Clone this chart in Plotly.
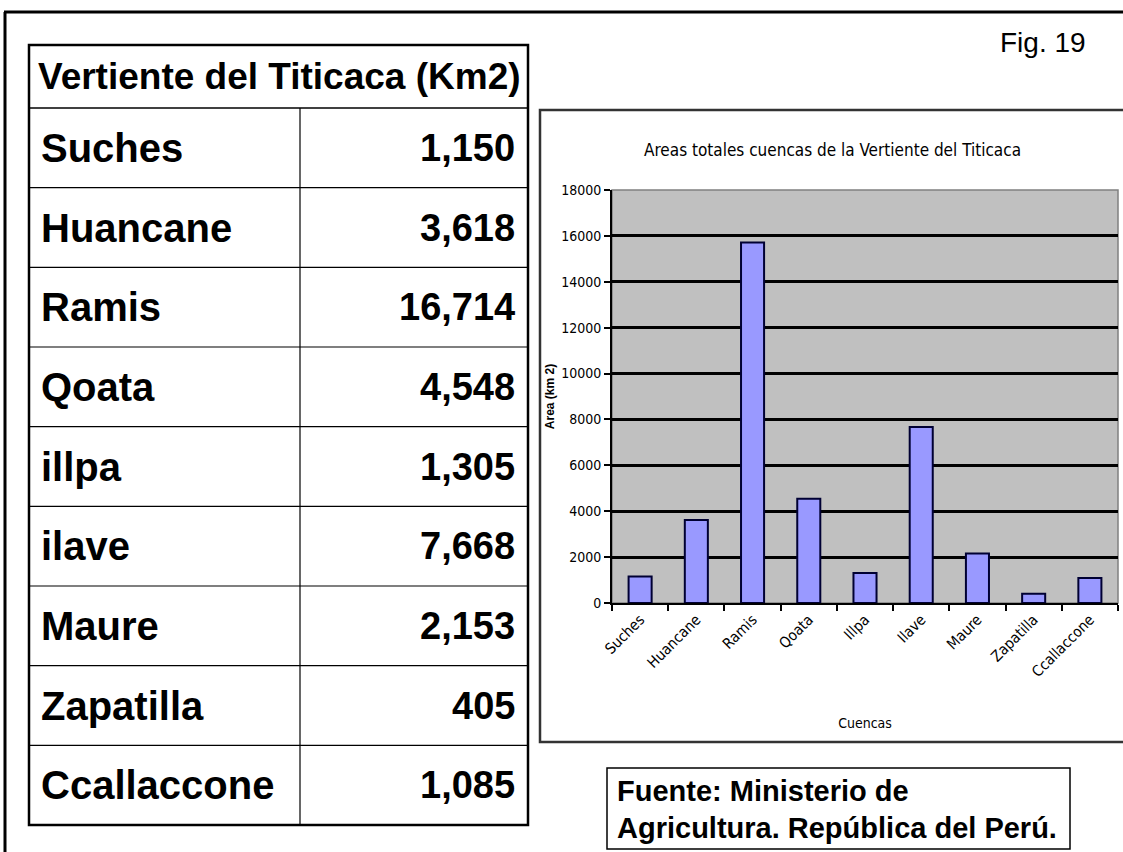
import plotly.graph_objects as go

# ---- data ----
table_title = "Vertiente del Titicaca (Km2)"
basins = ["Suches", "Huancane", "Ramis", "Qoata", "illpa", "ilave", "Maure", "Zapatilla", "Ccallaccone"]
areas_table = [1150, 3618, 16714, 4548, 1305, 7668, 2153, 405, 1085]
chart_categories = ["Suches", "Huancane", "Ramis", "Qoata", "Illpa", "Ilave", "Maure", "Zapatilla", "Ccallaccone"]
chart_values = [1150, 3618, 15714, 4548, 1305, 7668, 2153, 405, 1085]
y_ticks = [0, 2000, 4000, 6000, 8000, 10000, 12000, 14000, 16000, 18000]
chart_title = "Areas totales cuencas de la Vertiente del Titicaca"
x_title = "Cuencas"
y_title = "Area (km 2)"
fig_label = "Fig. 19"
source_lines = ["Fuente: Ministerio de", "Agricultura. República del Perú."]

W, H = 1123, 852
def px(x): return x / W
def py(y): return 1 - y / H

NARROW = "Liberation Sans Narrow, Arial Narrow, DejaVu Sans Condensed, Liberation Sans, Arial, sans-serif"
SANS = "Liberation Sans, Arial, sans-serif"

fig = go.Figure()
fig.add_trace(go.Bar(
    x=chart_categories, y=chart_values,
    marker=dict(color="#9999FF", line=dict(color="#000033", width=2)),
    showlegend=False, hoverinfo="x+y",
))

# plot area geometry (pixels)
PL, PR, PT, PB = 612, 1118, 190, 603

shapes = []
annotations = []

# outer frame
shapes.append(dict(type="line", xref="paper", yref="paper", x0=px(4), x1=px(1123), y0=py(12), y1=py(12),
                   line=dict(color="black", width=3)))
shapes.append(dict(type="line", xref="paper", yref="paper", x0=px(5), x1=px(5), y0=py(12), y1=py(852),
                   line=dict(color="black", width=3)))

# table
TL, TR, TDIV = 29, 528, 300
T_TOP, T_HEAD, T_BOT = 45, 108, 825
n = len(basins)
row_h = (T_BOT - T_HEAD) / n
shapes.append(dict(type="rect", xref="paper", yref="paper", x0=px(TL), x1=px(TR), y0=py(T_TOP), y1=py(T_BOT),
                   line=dict(color="black", width=2.5)))
shapes.append(dict(type="line", xref="paper", yref="paper", x0=px(TL), x1=px(TR), y0=py(T_HEAD), y1=py(T_HEAD),
                   line=dict(color="black", width=1.5)))
shapes.append(dict(type="line", xref="paper", yref="paper", x0=px(TDIV), x1=px(TDIV), y0=py(T_HEAD), y1=py(T_BOT),
                   line=dict(color="black", width=1.2)))
for i in range(1, n):
    yy = T_HEAD + i * row_h
    shapes.append(dict(type="line", xref="paper", yref="paper", x0=px(TL), x1=px(TR), y0=py(yy), y1=py(yy),
                       line=dict(color="black", width=1.2)))
annotations.append(dict(text="<b>" + table_title + "</b>", xref="paper", yref="paper", x=px(36), y=py((T_TOP + T_HEAD) / 2),
                        xanchor="left", yanchor="middle", showarrow=False,
                        font=dict(family=SANS, size=37, color="black")))
for i, (name, val) in enumerate(zip(basins, areas_table)):
    yc = T_HEAD + (i + 0.5) * row_h
    annotations.append(dict(text="<b>" + name + "</b>", xref="paper", yref="paper", x=px(39), y=py(yc),
                            xanchor="left", yanchor="middle", showarrow=False,
                            font=dict(family=SANS, size=40, color="black")))
    annotations.append(dict(text="<b>" + f"{val:,}" + "</b>", xref="paper", yref="paper", x=px(517), y=py(yc),
                            xanchor="right", yanchor="middle", showarrow=False,
                            font=dict(family=SANS, size=38, color="black")))

# chart box
shapes.append(dict(type="rect", xref="paper", yref="paper", x0=px(540), x1=px(1128), y0=py(110), y1=py(742),
                   line=dict(color="#333333", width=2.5), layer="below"))
# plot area border
shapes.append(dict(type="rect", xref="paper", yref="paper", x0=px(PL), x1=px(PR), y0=py(PT), y1=py(PB),
                   line=dict(color="#808080", width=1.5), layer="below"))

annotations.append(dict(text=chart_title, xref="paper", yref="paper", x=px(832), y=py(150),
                        xanchor="center", yanchor="middle", showarrow=False,
                        font=dict(family=NARROW, size=17, color="black")))
annotations.append(dict(text=fig_label, xref="paper", yref="paper", x=px(1088), y=py(42),
                        xanchor="right", yanchor="middle", showarrow=False,
                        font=dict(family=SANS, size=28, color="black")))

# source box
shapes.append(dict(type="rect", xref="paper", yref="paper", x0=px(607), x1=px(1070), y0=py(768), y1=py(849),
                   line=dict(color="black", width=1.5)))
annotations.append(dict(text="<b>" + source_lines[0] + "</b>", xref="paper", yref="paper", x=px(615), y=py(791),
                        xanchor="left", yanchor="middle", showarrow=False,
                        font=dict(family=SANS, size=29, color="black")))
annotations.append(dict(text="<b>" + source_lines[1] + "</b>", xref="paper", yref="paper", x=px(615), y=py(828),
                        xanchor="left", yanchor="middle", showarrow=False,
                        font=dict(family=SANS, size=29, color="black")))

fig.update_layout(
    width=W, height=H,
    margin=dict(l=0, r=0, t=0, b=0, pad=0, autoexpand=False),
    paper_bgcolor="white",
    plot_bgcolor="#C0C0C0",
    bargap=0.59,
    shapes=shapes,
    annotations=annotations,
    xaxis=dict(domain=[px(PL), px(PR)], anchor="y", automargin=False,
               showline=True, linecolor="black", linewidth=2,
               ticks="outside", tickson="boundaries", ticklen=6, tickwidth=2, tickcolor="black",
               tickangle=-45, tickfont=dict(family=NARROW, size=15, color="black"),
               showgrid=False,
               title=dict(text=x_title, font=dict(family=NARROW, size=14, color="black"), standoff=38)),
    yaxis=dict(domain=[py(PB), py(PT)], anchor="x", range=[0, 18000], automargin=False,
               tickmode="array", tickvals=y_ticks, ticktext=[str(v) for v in y_ticks],
               showline=True, linecolor="black", linewidth=2,
               ticks="outside", ticklen=6, tickwidth=2, tickcolor="black",
               tickfont=dict(family=NARROW, size=14, color="black"),
               showgrid=True, gridcolor="black", gridwidth=3, zeroline=False,
               title=dict(text="<b>" + y_title + "</b>", font=dict(family=SANS, size=12, color="black"), standoff=4)),
)

fig.write_html("out.html", config={"displayModeBar": False},
               post_script="document.body.style.margin='0';")
